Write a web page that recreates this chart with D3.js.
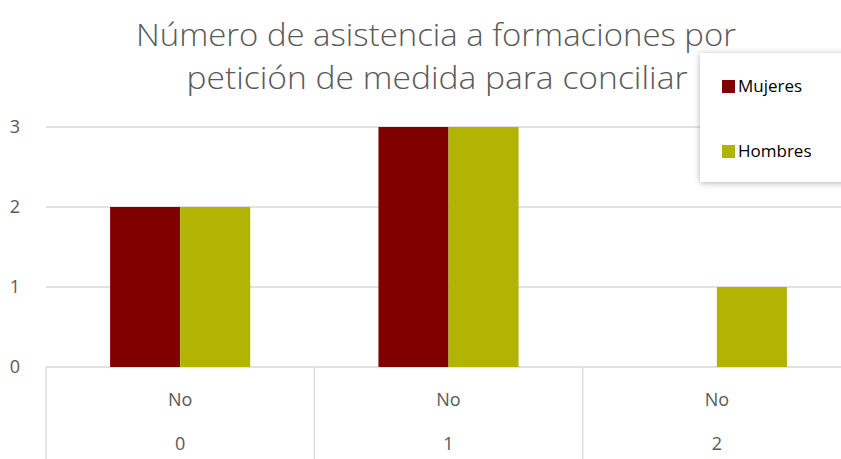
<!DOCTYPE html>
<html>
<head>
<meta charset="utf-8">
<script src="https://cdn.jsdelivr.net/npm/d3@7"></script>
<style>
  body { margin: 0; background: #fff; }
  svg { font-family: "Open Sans", sans-serif; }
</style>
</head>
<body>
<svg id="chart"></svg>
<script>
const categories = ['0', '1', '2'];
const subLabels = ['No', 'No', 'No'];
const seriesNames = ['Mujeres', 'Hombres'];
const mujeres = [2, 3, 0];
const hombres = [2, 3, 1];
const yTicks = [0, 1, 2, 3];
const titleLines = ['Número de asistencia a formaciones por', 'petición de medida para conciliar'];
const colors = ['#800000', '#b2b404'];

const width = 841, height = 459;
const svg = d3.select('#chart').attr('width', width).attr('height', height);

const defs = svg.append('defs');
const f = defs.append('filter').attr('id', 'shadow')
  .attr('x', '-20%').attr('y', '-20%').attr('width', '140%').attr('height', '140%');
f.append('feDropShadow').attr('dx', 0).attr('dy', 1).attr('stdDeviation', 3)
  .attr('flood-color', '#000').attr('flood-opacity', 0.3);

const x = d3.scaleBand().domain(categories).range([46, 851]).padding(0);
const x1 = d3.scaleBand().domain(seriesNames).range([0, x.bandwidth()])
  .paddingInner(0).paddingOuter(0.915);
const y = d3.scaleLinear().domain([0, 3]).range([367, 127]);

// gridlines
svg.append('g').selectAll('line').data(yTicks).enter().append('line')
  .attr('x1', 46).attr('x2', width)
  .attr('y1', d => y(d)).attr('y2', d => y(d))
  .attr('stroke', '#d9d9d9').attr('stroke-width', 1.3);

// y labels
svg.append('g').selectAll('text').data(yTicks).enter().append('text')
  .attr('x', 15).attr('y', d => y(d) + 6)
  .attr('text-anchor', 'middle')
  .attr('fill', '#595959').attr('font-size', 18)
  .text(d => d);

// bars
const rows = categories.map((c, i) => ({ cat: c, values: [mujeres[i], hombres[i]] }));
const groups = svg.append('g').selectAll('g').data(rows).enter().append('g')
  .attr('transform', d => `translate(${x(d.cat)},0)`);
groups.selectAll('rect')
  .data(d => d.values.map((v, j) => ({ key: seriesNames[j], v, j })))
  .enter().append('rect')
  .attr('x', d => x1(d.key))
  .attr('width', x1.bandwidth())
  .attr('y', d => y(d.v))
  .attr('height', d => y(0) - y(d.v))
  .attr('fill', d => colors[d.j]);

// category axis separators
const bounds = categories.map(c => x(c));
svg.append('g').selectAll('line').data(bounds).enter().append('line')
  .attr('x1', d => d).attr('x2', d => d)
  .attr('y1', y(0)).attr('y2', height)
  .attr('stroke', '#d9d9d9').attr('stroke-width', 1.3);

const ax = svg.append('g').attr('fill', '#595959').attr('font-size', 18).attr('text-anchor', 'middle');
ax.selectAll('.sub').data(categories).enter().append('text')
  .attr('x', d => x(d) + x.bandwidth() / 2).attr('y', 406)
  .text((d, i) => subLabels[i]);
ax.selectAll('.cat').data(categories).enter().append('text')
  .attr('x', d => x(d) + x.bandwidth() / 2).attr('y', 450)
  .text(d => d);

// title
const title = svg.append('text').attr('text-anchor', 'middle')
  .attr('fill', '#595959').attr('font-size', 32).attr('font-weight', 300);
title.append('tspan').attr('x', 436).attr('y', 46)
  .attr('textLength', 600).attr('lengthAdjust', 'spacingAndGlyphs').text(titleLines[0]);
title.append('tspan').attr('x', 437).attr('y', 89)
  .attr('textLength', 501).attr('lengthAdjust', 'spacingAndGlyphs').text(titleLines[1]);

// legend
const lg = svg.append('g');
lg.append('rect').attr('x', 700).attr('y', 53).attr('width', 150).attr('height', 129)
  .attr('fill', '#fff').attr('filter', 'url(#shadow)');
seriesNames.forEach((s, i) => {
  const yy = 86 + i * 65;
  lg.append('rect').attr('x', 722).attr('y', yy - 6).attr('width', 13).attr('height', 13)
    .attr('fill', colors[i]);
  lg.append('text').attr('x', 738).attr('y', yy + 6).attr('font-size', 17)
    .attr('fill', '#000').text(s);
});
</script>
</body>
</html>
